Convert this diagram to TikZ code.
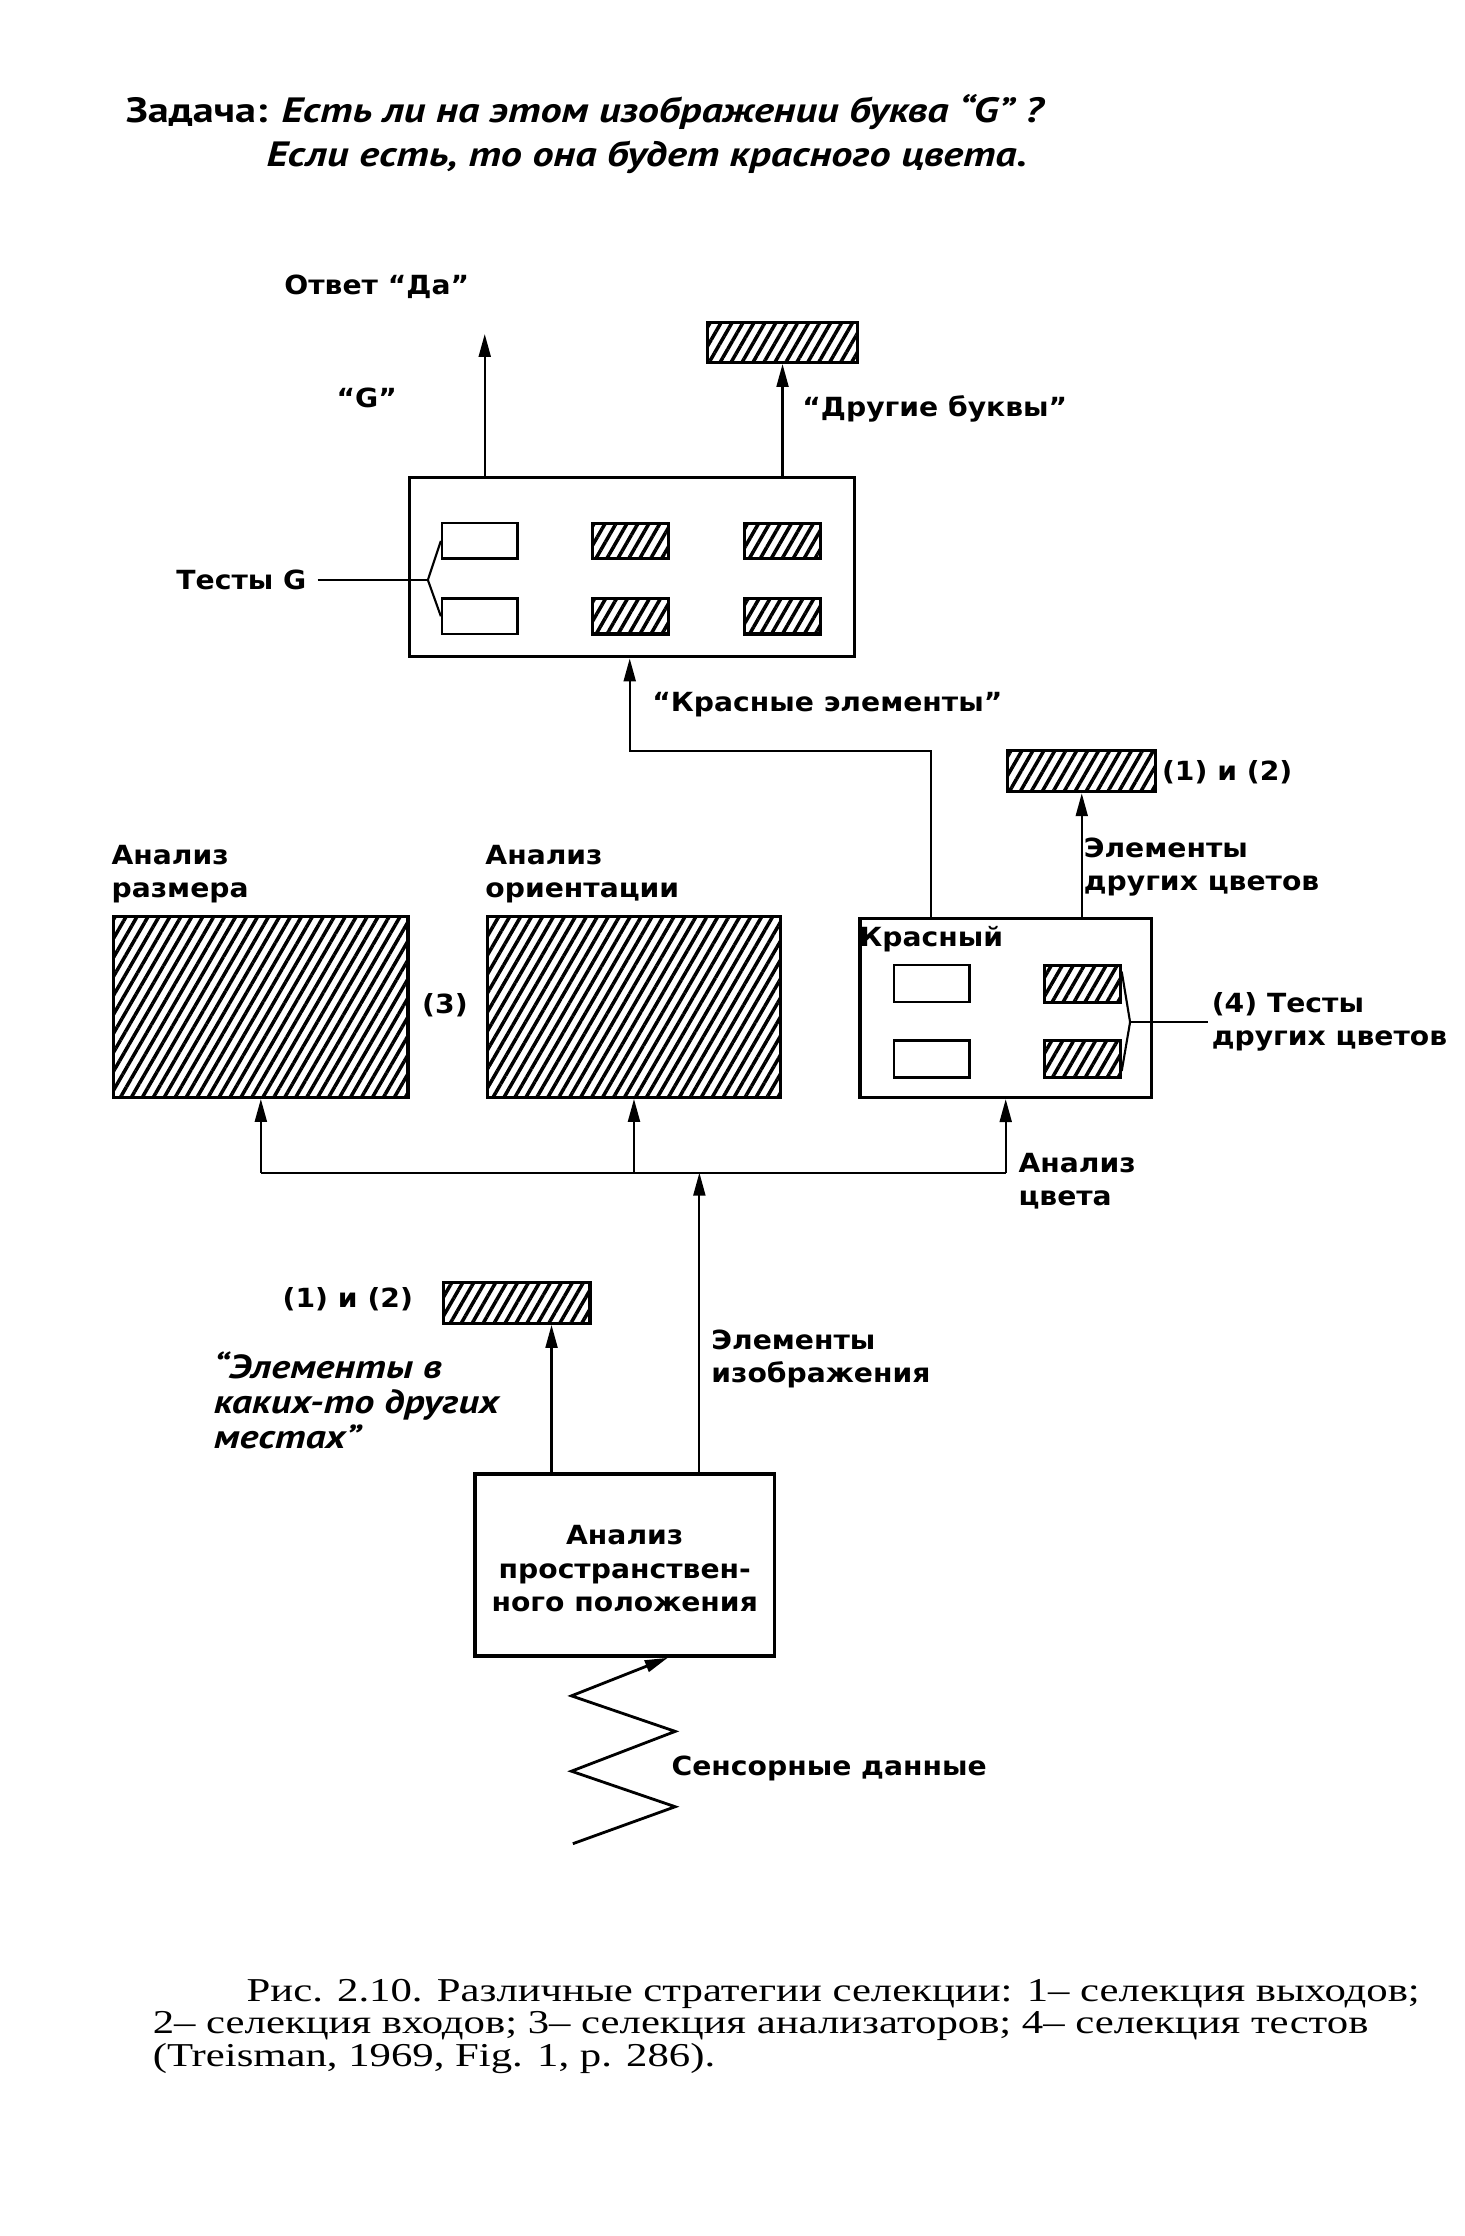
\documentclass[tikz,border=0pt]{standalone}
\usepackage{fontspec}
\setmainfont{DejaVu Sans}[FakeStretch=1.07]
\newfontfamily\taskfont{PT Sans}[FakeStretch=1.2]
\newfontfamily\capfont{Liberation Serif}[FakeStretch=1.28]
\newcommand\tightlines{\lineskiplimit=-20pt\relax}
\usetikzlibrary{arrows.meta,patterns.meta,fit,calc}

\begin{document}
\begin{tikzpicture}[x=0.14214mm,y=-0.14214mm,
  lbl/.style={inner sep=0pt,font=\fontsize{7.5pt}{9.5pt}\selectfont\bfseries},
  task/.style={inner sep=0pt,anchor=west,font=\taskfont\fontsize{10pt}{12pt}\selectfont\bfseries\itshape},
  frame/.style={draw,line width=1pt,inner sep=0pt},
  test/.style={draw,fill=white,line width=0.7pt,inner sep=0pt},
  hatch/.style={draw,line width=0.9pt,inner sep=0pt,pattern={Lines[angle=60,distance=2.7pt,line width=1pt]}},
  link/.style={line width=0.6pt},
  flow/.style={line width=0.6pt,-{Triangle[length=6.5pt,width=3.4pt]}}]
\useasboundingbox (0,0) rectangle (1030,1573);

% task
\node[task] (task1) at (88,79) {{\upshape Задача:} Есть ли на этом изображении буква “G” ?};
\node[task] (task2) at (187,111) {Если есть, то она будет красного цвета.};

% G tests
\node[frame,fit={(288,336) (601,462)}] (gbox) {};
\node[test,fit={(311,368) (364,393)}] (gw1) {};
\node[hatch,fit={(417,368) (470,393)}] (gh1) {};
\node[hatch,fit={(524,368) (577,393)}] (gh2) {};
\node[test,fit={(311,421) (364,446)}] (gw2) {};
\node[hatch,fit={(417,421) (470,446)}] (gh3) {};
\node[hatch,fit={(524,421) (577,446)}] (gh4) {};
\node[hatch,fit={(498,227) (603,255)}] (lettersink) {};
\coordinate (yes) at (341,235);
\draw[flow] (gbox.north -| yes) -- (yes);
\draw[flow] (gbox.north -| lettersink) -- (lettersink.south);
\node[lbl] (yeslbl) at (265,202) {Ответ “Да”};
\node[lbl] (glbl) at (258,280) {“G”};
\node[lbl,anchor=west] (otherlbl) at (564,288) {“Другие буквы”};
\node[lbl,anchor=east] (gtests) at (216,408) {Тесты G};
\coordinate (gfork) at ($(gtests.east)+(85,0)$);
\draw[link] ([xshift=3pt]gtests.east) -- (gfork);
\draw[link] (gw1.west) -- (gfork) -- (gw2.west);

% analysers
\node[lbl,anchor=west,align=left] (sizelbl) at (78,615) {Анализ\\размера};
\node[hatch,fit={(80,645) (287,772)}] (sizebox) {};
\node[lbl,anchor=west,align=left] (orientlbl) at (341,615) {Анализ\\ориентации};
\node[hatch,fit={(343,645) (549,772)}] (orientbox) {};
\node[lbl] (three) at (313,707) {(3)};

% red
\node[frame,fit={(605,646) (810,772)}] (redbox) {};
\node[lbl,anchor=west] (redlbl) at (604,661) {Красный};
\node[test,fit={(629,679) (682,705)}] (rw1) {};
\node[test,fit={(629,732) (682,758)}] (rw2) {};
\node[hatch,fit={(735,679) (788,705)}] (rh1) {};
\node[hatch,fit={(735,732) (788,758)}] (rh2) {};
\node[lbl,anchor=west,align=left] (rtests) at (852,719) {(4) Тесты\\других цветов};
\coordinate (rfork) at (795,719);
\draw[link] ($(rh1.north east)!0.2!(rh1.south east)$) -- (rfork) -- ($(rh2.north east)!0.8!(rh2.south east)$);
\draw[link] (rfork) -- ([xshift=-1pt]rtests.west);
\node[hatch,fit={(709,528) (813,557)}] (colorsink) {};
\node[lbl,anchor=west] (colorsinklbl) at (817,543) {(1) и (2)};
\draw[flow] (redbox.north -| colorsink) -- (colorsink.south);
\node[lbl,anchor=west,align=left] (othercol) at (762,610) {Элементы\\других цветов};
\coordinate (redturn) at (655,528);
\coordinate (redin) at (443,500);
\draw[flow] (redbox.north -| redturn) -- (redturn) -| (gbox.south -| redin);
\node[lbl] (redelem) at (582,496) {“Красные элементы”};

% split
\coordinate (split) at (492,825);
\draw[link] (sizebox.south |- split) -- (redbox.south |- split);
\draw[flow] (sizebox.south |- split) -- (sizebox.south);
\draw[flow] (orientbox.south |- split) -- (orientbox.south);
\draw[flow] (redbox.south |- split) -- (redbox.south);
\node[lbl,anchor=west,align=left] (colorlbl) at (716,831) {Анализ\\цвета};

% place
\node[frame,fit={(334,1037) (545,1165)}] (spacebox) {};
\node[lbl,align=center] (spacelbl) at ([yshift=-1pt]spacebox.center) {Анализ\\пространствен-\\ного положения};
\draw[flow] (spacebox.north -| split) -- (split);
\node[lbl,anchor=west,align=left] (imglbl) at (500,956) {Элементы\\изображения};
\node[hatch,fit={(312,902) (415,931)}] (placesink) {};
\node[lbl,anchor=east] (placesinklbl) at (291,914) {(1) и (2)};
\coordinate (elsewhere) at (388,931);
\draw[flow] (spacebox.north -| elsewhere) -- (placesink.south -| elsewhere);
\node[inner sep=0pt,anchor=west,align=left,font=\taskfont\fontsize{9.5pt}{10pt}\selectfont\bfseries\itshape] (elselbl) at (150,985) {“Элементы в\\каких-то других\\местах”};

% sensory input
\coordinate (sense) at (403,1297);
\draw[flow,line width=0.8pt] (sense) -- (475,1271) -- (402,1246) -- (475,1218) -- (402,1193) -- ($(spacebox.south west)+(137,0)$);
\node[lbl,anchor=west] (senselbl) at (472,1244) {Сенсорные данные};

% caption
\node[anchor=north west,inner sep=0pt,align=left,font=\capfont\fontsize{9.5pt}{9.2pt}\selectfont\tightlines] (caption) at (107,1392) {\hspace*{26.7pt}Рис. 2.10. Различные стратегии селекции: 1– селекция выходов;\\2– селекция входов; 3– селекция анализаторов; 4– селекция тестов\\(Treisman, 1969, Fig. 1, p. 286).};
\end{tikzpicture}
\end{document}
